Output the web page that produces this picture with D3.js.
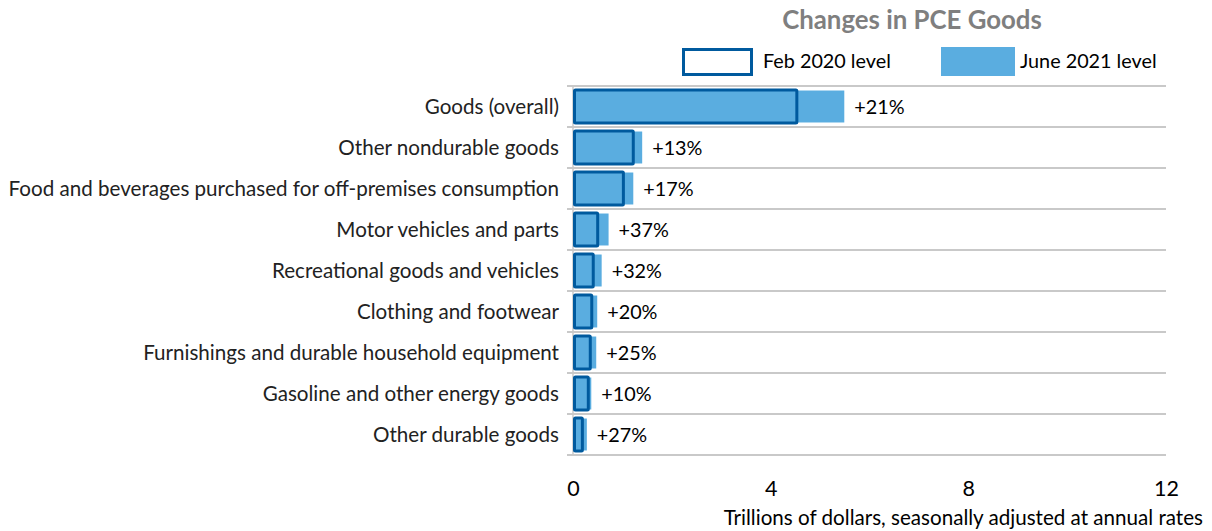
<!DOCTYPE html>
<html><head><meta charset="utf-8">
<script src="https://cdn.jsdelivr.net/npm/d3@7"></script>
<style>body{margin:0;background:#fff;} text{font-family:Lato, "Open Sans", sans-serif;}</style>
</head><body><svg id="c" width="1212" height="531"></svg>
<script>
const categories = ["Goods (overall)","Other nondurable goods","Food and beverages purchased for off-premises consumption","Motor vehicles and parts","Recreational goods and vehicles","Clothing and footwear","Furnishings and durable household equipment","Gasoline and other energy goods","Other durable goods"];
const feb2020 = [4.56, 1.25, 1.05, 0.53, 0.44, 0.41, 0.38, 0.34, 0.22];
const jun2021 = [5.49, 1.40, 1.22, 0.72, 0.58, 0.49, 0.47, 0.37, 0.28];
const changeLabels = ["+21%","+13%","+17%","+37%","+32%","+20%","+25%","+10%","+27%"];
const xTicks = [0,4,8,12];
const seriesNames = ["Feb 2020 level","June 2021 level"];

const svg = d3.select("#c");
const light = "#5aade0", dark = "#005a9e", grid = "#c9c9c9";
const x = d3.scaleLinear().domain([0,12]).range([573,1166]);
const y = d3.scaleBand().domain(categories).range([86,455]).paddingInner(0.22).paddingOuter(0.11);
const yb = d3.scaleBand().domain(categories).range([86,455]);

// title
svg.append("text").attr("x",912).attr("y",29).attr("text-anchor","middle")
  .attr("font-size",25.8).attr("font-weight","bold").attr("fill","#7f7f7f").text("Changes in PCE Goods");

// legend
svg.append("rect").attr("x",683.5).attr("y",49.5).attr("width",68).attr("height",25)
  .attr("fill","#fff").attr("stroke",dark).attr("stroke-width",3);
svg.append("text").attr("x",763).attr("y",68).attr("font-size",19.8).attr("fill","#000").text(seriesNames[0]);
svg.append("rect").attr("x",941).attr("y",47).attr("width",74).attr("height",29).attr("fill",light);
svg.append("text").attr("x",1020).attr("y",68).attr("font-size",19.8).attr("fill","#000").text(seriesNames[1]);

// gridlines (band boundaries)
const bounds = categories.map(c=>yb(c)).concat([yb.range()[1]]);
svg.append("g").selectAll("line").data(bounds).join("line")
  .attr("x1",567).attr("x2",1166).attr("y1",d=>d).attr("y2",d=>d)
  .attr("stroke",grid).attr("stroke-width",2);
svg.append("line").attr("x1",x(0)).attr("x2",x(0)).attr("y1",86).attr("y2",456)
  .attr("stroke",grid).attr("stroke-width",1.5);

// June bars
svg.append("g").selectAll("rect").data(categories).join("rect")
  .attr("x",x(0)+1).attr("y",(d)=>y(d)).attr("height",y.bandwidth())
  .attr("width",(d,i)=>x(jun2021[i])-x(0)-1).attr("fill",light);
// Feb outline bars
svg.append("g").selectAll("rect").data(categories).join("rect")
  .attr("x",x(0)+1.5).attr("y",(d)=>y(d)-0.5).attr("height",y.bandwidth()+1)
  .attr("width",(d,i)=>x(feb2020[i])-x(0)-3).attr("fill","none")
  .attr("stroke",dark).attr("stroke-width",3).attr("rx",1);

// change labels
svg.append("g").selectAll("text").data(categories).join("text")
  .attr("x",(d,i)=>x(jun2021[i])+10).attr("y",d=>yb(d)+yb.bandwidth()/2)
  .attr("dy","0.36em").attr("font-size",19.8).attr("fill","#000")
  .text((d,i)=>changeLabels[i]);

// category labels
svg.append("g").selectAll("text").data(categories).join("text")
  .attr("x",559).attr("y",d=>yb(d)+yb.bandwidth()/2).attr("dy","0.36em")
  .attr("text-anchor","end").attr("font-size",20.6).attr("fill","#222").text(d=>d);

// x axis
const ax = svg.append("g").attr("transform","translate(0,456)")
  .call(d3.axisBottom(x).tickValues(xTicks).tickSize(0).tickPadding(25).tickFormat(d3.format("d")));
ax.select(".domain").remove();
ax.selectAll("text").attr("font-size",21.5).attr("fill","#000").style("font-family","Lato, sans-serif");

svg.append("text").attr("x",1203).attr("y",525).attr("text-anchor","end")
  .attr("font-size",20.6).attr("fill","#000").text("Trillions of dollars, seasonally adjusted at annual rates");
</script></body></html>
